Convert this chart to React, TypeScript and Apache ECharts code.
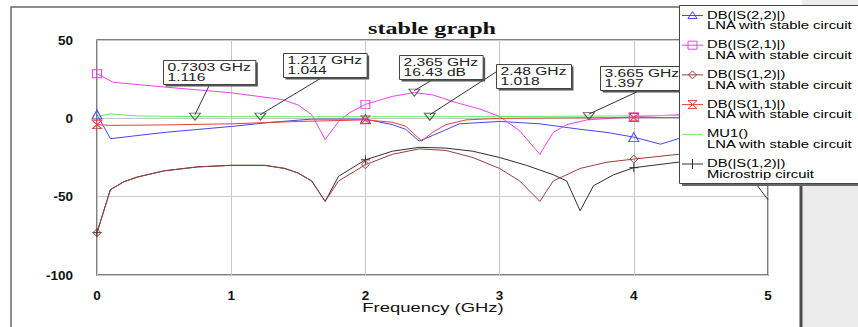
import React, { useEffect, useRef } from 'react';
import * as echarts from 'echarts';

// ---------------- data ----------------
const S22_FREQ = [0, 0.1, 0.5, 1.0, 1.3, 1.6, 2.0, 2.2, 2.3, 2.4, 2.5, 2.7, 3.0, 3.3, 3.6, 3.8, 4.0, 4.2, 4.35, 4.6, 5.0];
const S22_DB = [2.5, -13, -9, -5.2, -2.5, -0.5, -0.5, -4, -7, -14.5, -11, -3.5, -2, -3.5, -7, -9, -12, -16.5, -12.5, -8, -4];

const S21_FREQ = [0, 0.12, 0.5, 1.0, 1.38, 1.5, 1.6, 1.7, 1.8, 1.88, 2.0, 2.2, 2.365, 2.5, 2.68, 2.85, 3.0, 3.15, 3.3, 3.4, 3.5, 3.65, 4.0, 4.35, 4.7, 5.0];
const S21_DB = [28.5, 23, 20, 16.3, 12, 8.5, 2.3, -13.6, -2, 3.5, 8.9, 14, 16.43, 15, 10, 6, 1.2, -8, -23, -9, -4, -1, 1, 2.3, 2.5, 2.5];

const S12_LNA_FREQ = [0, 0.1, 0.2, 0.3, 0.5, 0.75, 1.0, 1.25, 1.4, 1.5, 1.6, 1.7, 1.8, 2.0, 2.2, 2.4, 2.6, 2.8, 3.0, 3.15, 3.3, 3.4, 3.6, 3.8, 4.0, 4.33, 4.7, 5.0];
const S12_LNA_DB = [-73, -45.5, -40.5, -37.5, -33.5, -31, -30, -30, -32, -35, -40, -53, -40, -29.6, -23, -19.5, -20.5, -25, -32, -40, -53, -40, -32, -28, -26, -23, -22, -21];

const S11_FREQ = [0, 0.1, 0.5, 1.0, 1.5, 2.0, 2.2, 2.3, 2.42, 2.5, 2.6, 2.75, 3.0, 3.5, 4.0, 4.5, 5.0];
const S11_DB = [-4, -4.5, -4.2, -3.5, -2, -1, -2.5, -5, -14.5, -9, -4, -1, 0, 0.3, 0.5, 0.5, 0.5];

const MU1_FREQ = [0, 0.1, 0.3, 0.7303, 1.217, 2.0, 2.48, 3.0, 3.665, 4.0, 4.5, 5.0];
const MU1_VAL = [1.2, 2.8, 1.5, 1.116, 1.044, 1.02, 1.018, 1.1, 1.397, 1.6, 1.9, 2.2];

const S12_MS_FREQ = [0, 0.1, 0.2, 0.3, 0.5, 0.75, 1.0, 1.25, 1.4, 1.5, 1.6, 1.7, 1.8, 2.0, 2.2, 2.4, 2.6, 2.8, 3.0, 3.2, 3.4, 3.5, 3.6, 3.7, 3.85, 4.0, 4.33, 4.6, 4.85, 4.93, 5.0];
const S12_MS_DB = [-73, -45.5, -40.5, -37.5, -33.5, -31, -30, -30, -32, -35, -40, -53, -37, -26.5, -21, -18.5, -19, -21, -25, -30, -36, -40, -59, -43, -36, -31.5, -28, -27, -33, -44, -52];

const MARKER_FREQ = [0.7303, 1.217, 2.365, 2.48, 3.665];
const MARKER_VAL = [1.116, 1.044, 16.43, 1.018, 1.397];
const MARKER_UNIT = ['', '', ' dB', '', ''];

const SYMBOL_FREQS = [0, 2, 4];

const TITLE = 'stable graph';
const X_NAME = 'Frequency (GHz)';
const X_RANGE = [0, 5];
const Y_RANGE = [-100, 50];

// ---------------- styles ----------------
const FONT = '"Liberation Sans", Arial, sans-serif';
const SERIF = '"Liberation Serif", "Times New Roman", serif';
const STRETCH = 1.42;

const SYM = {
  tri: 'path://M5,0 L10,9 L0,9 Z',
  rect: 'path://M0,0 L10,0 L10,10 L0,10 Z',
  diamond: 'path://M5,0 L10,5 L5,10 L0,5 Z',
  hour: 'path://M0,0 L10,0 L0,10 L10,10 Z',
  plus: 'path://M5,0 L5,10 M0,5 L10,5',
};

const SERIES_DEF = [
  { name: 'DB(|S(2,2)|)', sub: 'LNA with stable circuit', color: '#4646f0', sym: 'tri', size: [10, 9], z: 2, freq: S22_FREQ, val: S22_DB },
  { name: 'DB(|S(2,1)|)', sub: 'LNA with stable circuit', color: '#f040f0', sym: 'rect', size: [9, 8], z: 2, freq: S21_FREQ, val: S21_DB },
  { name: 'DB(|S(1,2)|)', sub: 'LNA with stable circuit', color: '#a03c3c', sym: 'diamond', size: [8, 8], z: 3, freq: S12_LNA_FREQ, val: S12_LNA_DB },
  { name: 'DB(|S(1,1)|)', sub: 'LNA with stable circuit', color: '#f03c3c', sym: 'hour', size: [9, 8], z: 2, freq: S11_FREQ, val: S11_DB },
  { name: 'MU1()', sub: 'LNA with stable circuit', color: '#5ef05e', sym: '', size: [0, 0], z: 2, freq: MU1_FREQ, val: MU1_VAL },
  { name: 'DB(|S(1,2)|)', sub: 'Microstrip circuit', color: '#303030', sym: 'plus', size: [9, 9], z: 2, freq: S12_MS_FREQ, val: S12_MS_DB },
];

const ANN_OFFSET = [[-32, -57], [23, -64], [-15, -38], [66, -53], [11, -50]];
const ANN_ANCHOR = [[0.5, 1], [0.46, 1], [0.4, 1], [0, 0.3], [0.47, 1]];

function measure(text: string, font: string) {
  const c = document.createElement('canvas').getContext('2d');
  if (!c) return text.length * 6;
  c.font = font;
  return c.measureText(text).width;
}

function txt(text: string, x: number, y: number, font: string, align: string, z: number, fill = '#111', sx = STRETCH) {
  return {
    type: 'text',
    x,
    y,
    scaleX: sx,
    z,
    silent: true,
    style: {
      text,
      x: 0,
      y: 0,
      font,
      fill,
      align,
      textAlign: align,
      verticalAlign: 'middle',
      textVerticalAlign: 'middle',
    },
  };
}

export default function App() {
  const ref = useRef<HTMLDivElement>(null);

  useEffect(() => {
    if (!ref.current) return;
    const chart = echarts.init(ref.current, undefined, { renderer: 'svg' });

    const series: any[] = SERIES_DEF.map((d) => ({
      type: 'line',
      name: d.name + ' ' + d.sub,
      data: d.freq.map((f, i) => [f, d.val[i]]),
      symbol: d.sym ? (SYM as any)[d.sym] : 'none',
      symbolSize: (v: number[]) => (d.sym && SYMBOL_FREQS.includes(v[0]) ? d.size : 0),
      showSymbol: !!d.sym,
      lineStyle: { color: d.color, width: 1 },
      itemStyle: { color: 'rgba(255,255,255,0)', borderColor: d.color, borderWidth: 1 },
      z: d.z,
      silent: true,
    }));

    series.push({
      type: 'scatter',
      data: MARKER_FREQ.map((f, i) => [f, MARKER_VAL[i]]),
      symbol: 'path://M0,0 L10,0 L5,7 Z',
      symbolSize: [11, 7],
      itemStyle: { color: 'rgba(255,255,255,0)', borderColor: '#333', borderWidth: 1 },
      z: 4,
      silent: true,
    });

    const axisLabel = { fontFamily: FONT, fontSize: 13.5, fontWeight: 'bold', color: '#111' };

    chart.setOption({
      animation: false,
      backgroundColor: '#fff',
      grid: {
        left: 97,
        right: 90,
        top: 40,
        bottom: 52,
        show: true,
        backgroundColor: '#fff',
        borderColor: '#555',
        borderWidth: 1.5,
        containLabel: false,
        outerBoundsMode: 'none',
      },
      xAxis: {
        type: 'value',
        min: X_RANGE[0],
        max: X_RANGE[1],
        interval: 1,
        axisLine: { show: false },
        axisTick: { show: false },
        splitLine: { show: true, lineStyle: { color: '#c8c8c8', width: 1 } },
        axisLabel: { ...axisLabel, margin: 13 },
      },
      yAxis: {
        type: 'value',
        min: Y_RANGE[0],
        max: Y_RANGE[1],
        interval: 50,
        axisLine: { show: false },
        axisTick: { show: false },
        splitLine: { show: true, lineStyle: { color: '#c8c8c8', width: 1 } },
        axisLabel: { ...axisLabel, margin: 24 },
      },
      series,
    });

    const g: any[] = [];
    // outer frame and right panel
    g.push({ type: 'rect', z: 1, silent: true, shape: { x: 11, y: 7, width: 790, height: 340 }, style: { fill: 'none', stroke: '#6a6a6a', lineWidth: 1.5 } });
    g.push({ type: 'rect', z: 1, silent: true, shape: { x: 802, y: 0, width: 60, height: 327 }, style: { fill: '#ececec' } });
    g.push({ type: 'rect', z: 1, silent: true, shape: { x: 799.5, y: 7, width: 3, height: 330 }, style: { fill: '#4c4c4c' } });

    // title & axis name
    g.push(txt(TITLE, 432, 28, `bold 17px ${SERIF}`, 'center', 5));
    g.push(txt(X_NAME, 433, 308, `13px ${FONT}`, 'center', 5));

    // annotations
    const annFont = `11px ${FONT}`;
    MARKER_FREQ.forEach((f, i) => {
      const p = chart.convertToPixel({ gridIndex: 0 }, [f, MARKER_VAL[i]]) as number[];
      const l1 = `${f} GHz`;
      const l2 = `${MARKER_VAL[i]}${MARKER_UNIT[i]}`;
      const w = Math.max(measure(l1, annFont), measure(l2, annFont)) * STRETCH + 9;
      const h = 24;
      const bx = Math.round(p[0] + ANN_OFFSET[i][0]) + 0.5;
      const by = Math.round(p[1] + ANN_OFFSET[i][1]) + 0.5;
      const ax = bx + ANN_ANCHOR[i][0] * w;
      const ay = by + ANN_ANCHOR[i][1] * h;
      g.push({ type: 'line', z: 6, silent: true, shape: { x1: ax, y1: ay, x2: p[0], y2: p[1] - 2 }, style: { stroke: '#333', lineWidth: 1 } });
      g.push({ type: 'rect', z: 7, silent: true, shape: { x: bx + 2, y: by + 2, width: w, height: h }, style: { fill: '#555' } });
      g.push({ type: 'rect', z: 8, silent: true, shape: { x: bx, y: by, width: w, height: h }, style: { fill: '#fff', stroke: '#444', lineWidth: 1 } });
      g.push(txt(l1, bx + 4, by + 6.5, annFont, 'left', 9, '#222'));
      g.push(txt(l2, bx + 4, by + 16.5, annFont, 'left', 9, '#222'));
    });

    // legend
    const LX = 679;
    g.push({ type: 'rect', z: 20, silent: true, shape: { x: LX + 3, y: 8, width: 200, height: 178 }, style: { fill: '#666' } });
    g.push({ type: 'rect', z: 21, silent: true, shape: { x: LX + 0.5, y: 5.5, width: 200, height: 178 }, style: { fill: '#fff', stroke: '#444', lineWidth: 1 } });
    const legFont = `10px ${FONT}`;
    SERIES_DEF.forEach((d, i) => {
      const cy = 15.5 + i * 29.7;
      const mx = 692.5;
      g.push({ type: 'line', z: 22, silent: true, shape: { x1: 682, y1: cy, x2: 703, y2: cy }, style: { stroke: d.color, lineWidth: 1 } });
      const st = { fill: 'none', stroke: d.color, lineWidth: 1 };
      if (d.sym === 'tri') g.push({ type: 'polygon', z: 22, silent: true, shape: { points: [[mx - 4.5, cy + 3], [mx, cy - 4], [mx + 4.5, cy + 3]] }, style: st });
      if (d.sym === 'rect') g.push({ type: 'rect', z: 22, silent: true, shape: { x: mx - 4.5, y: cy - 4, width: 9, height: 8 }, style: st });
      if (d.sym === 'diamond') g.push({ type: 'polygon', z: 22, silent: true, shape: { points: [[mx, cy - 4], [mx + 4, cy], [mx, cy + 4], [mx - 4, cy]] }, style: st });
      if (d.sym === 'hour') g.push({ type: 'polygon', z: 22, silent: true, shape: { points: [[mx - 4.5, cy - 4], [mx + 4.5, cy - 4], [mx - 4.5, cy + 4], [mx + 4.5, cy + 4]] }, style: st });
      if (d.sym === 'plus') g.push({ type: 'line', z: 22, silent: true, shape: { x1: mx, y1: cy - 5, x2: mx, y2: cy + 5 }, style: st });
      g.push(txt(d.name, 707, cy, legFont, 'left', 23, '#000', 1.48));
      g.push(txt(d.sub, 707, cy + 10.5, legFont, 'left', 23, '#000', 1.48));
    });

    chart.setOption({ graphic: g });

    return () => {
      chart.dispose();
    };
  }, []);

  return <div ref={ref} style={{ position: 'fixed', left: 0, top: 0, width: 858, height: 327 }} />;
}
